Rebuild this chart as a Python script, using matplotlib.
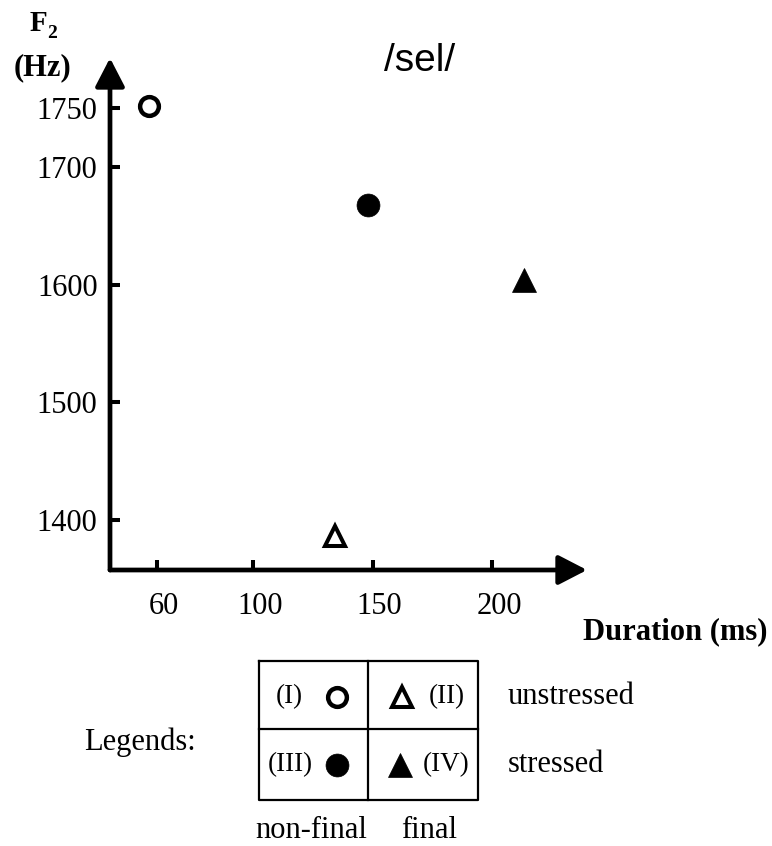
import numpy as np
import matplotlib
matplotlib.use("Agg")
import matplotlib.pyplot as plt
from matplotlib.transforms import ScaledTranslation

plt.rcParams['font.family'] = ['Liberation Serif', 'DejaVu Serif']

# formant F2 vs. duration for /sel/, four conditions
conditions = ["(I)", "(II)", "(III)", "(IV)"]
duration = [56.5, 134.5, 148.0, 213.3]   # ms
f2 = [1751.5, 1386.2, 1667.6, 1604.1]    # Hz
markers = ['o', '^', 'o', '^']
faces = ['white', 'white', 'black', 'black']

xticks = [60, 100, 150, 200]
yticks = [1400, 1500, 1600, 1700, 1750]

W, H = 772, 846
fig = plt.figure(figsize=(W / 100, H / 100), dpi=100)


def px(x, y):
    # pixel position -> figure fraction
    return x / W, 1 - y / H


def rect(x0, y0, x1, y1):
    return [x0 / W, 1 - y1 / H, (x1 - x0) / W, (y1 - y0) / H]


ax = fig.add_axes(rect(110, 58, 587, 570))
ax.set_xlim(40.2, 239.7)
ax.set_ylim(1357.5, 1792.5)
for s in ax.spines.values():
    s.set_visible(False)

arrow = dict(arrowstyle='-|>,head_length=0.87,head_width=0.45', lw=3.4,
             color='black', shrinkA=0, shrinkB=0, mutation_scale=20)
ax.annotate('', xy=(1, 0), xytext=(0, 0), xycoords='axes fraction', arrowprops=arrow)
ax.annotate('', xy=(0, 1), xytext=(0, 0), xycoords='axes fraction', arrowprops=arrow)

ax.set_xticks(xticks)
ax.set_yticks(yticks)
ax.tick_params(axis='x', direction='in', length=7, width=2.9, labelsize=22, pad=16)
ax.tick_params(axis='y', direction='in', length=7, width=2.9, labelsize=22, pad=9)
shift = ScaledTranslation(0.07, 0, fig.dpi_scale_trans)
for lab in ax.get_xticklabels():
    lab.set_transform(lab.get_transform() + shift)


def draw_marker(axis, x, y, i, **kw):
    if markers[i] == 'o':
        axis.plot(x, y, 'o', ms=13.5 if faces[i] == 'white' else 16.5, mfc=faces[i],
                  mec='black', mew=3.2 if faces[i] == 'white' else 0.5, **kw)
    else:
        axis.plot(x, y, '^', ms=14.5 if faces[i] == 'white' else 17, mfc=faces[i],
                  mec='black', mew=2.9 if faces[i] == 'white' else 0.5, **kw)


for i in range(len(duration)):
    draw_marker(ax, duration[i], f2[i], i, clip_on=False)

fig.text(*px(420, 61), "/sel/", family='Liberation Sans', fontsize=28, ha='center', va='center')
fig.text(*px(38, 31), "F", fontsize=21, fontweight='bold', ha='center', va='baseline')
fig.text(*px(52.5, 38), "2", fontsize=14, fontweight='bold', ha='center', va='baseline')
fig.text(*px(42.5, 68), "(Hz)", fontsize=22, fontweight='bold', ha='center', va='center')
fig.text(*px(675, 632), "Duration (ms)", fontsize=22, fontweight='bold', ha='center', va='center')

# legend table: columns non-final / final, rows unstressed / stressed
lg = fig.add_axes([0, 0, 1, 1])
lg.set_xlim(0, W)
lg.set_ylim(H, 0)
lg.axis('off')
lg.plot([259.3, 477.7, 477.7, 259.3, 259.3], [661, 661, 800, 800, 661], color='black', lw=1.6)
lg.plot([259.3, 477.7], [729, 729], color='black', lw=1.6)
lg.plot([368, 368], [661, 800], color='black', lw=1.6)

cells = [(289.5, 697, 337), (446.5, 697, 402),
         (290, 765, 337), (446.5, 765, 400)]
for i, (tx, ty, mx) in enumerate(cells):
    lg.text(tx, ty, conditions[i], fontsize=19.5, ha='center', va='center')
    draw_marker(lg, mx, ty, i)

lg.text(508, 697, "unstressed", fontsize=22, ha='left', va='center')
lg.text(508, 765, "stressed", fontsize=22, ha='left', va='center')
lg.text(311.5, 830, "non-final", fontsize=22, ha='center', va='center')
lg.text(429.5, 830, "final", fontsize=22, ha='center', va='center')
lg.text(140, 742, "Legends:", fontsize=22, ha='center', va='center')

fig.savefig("out.png", dpi=100)
